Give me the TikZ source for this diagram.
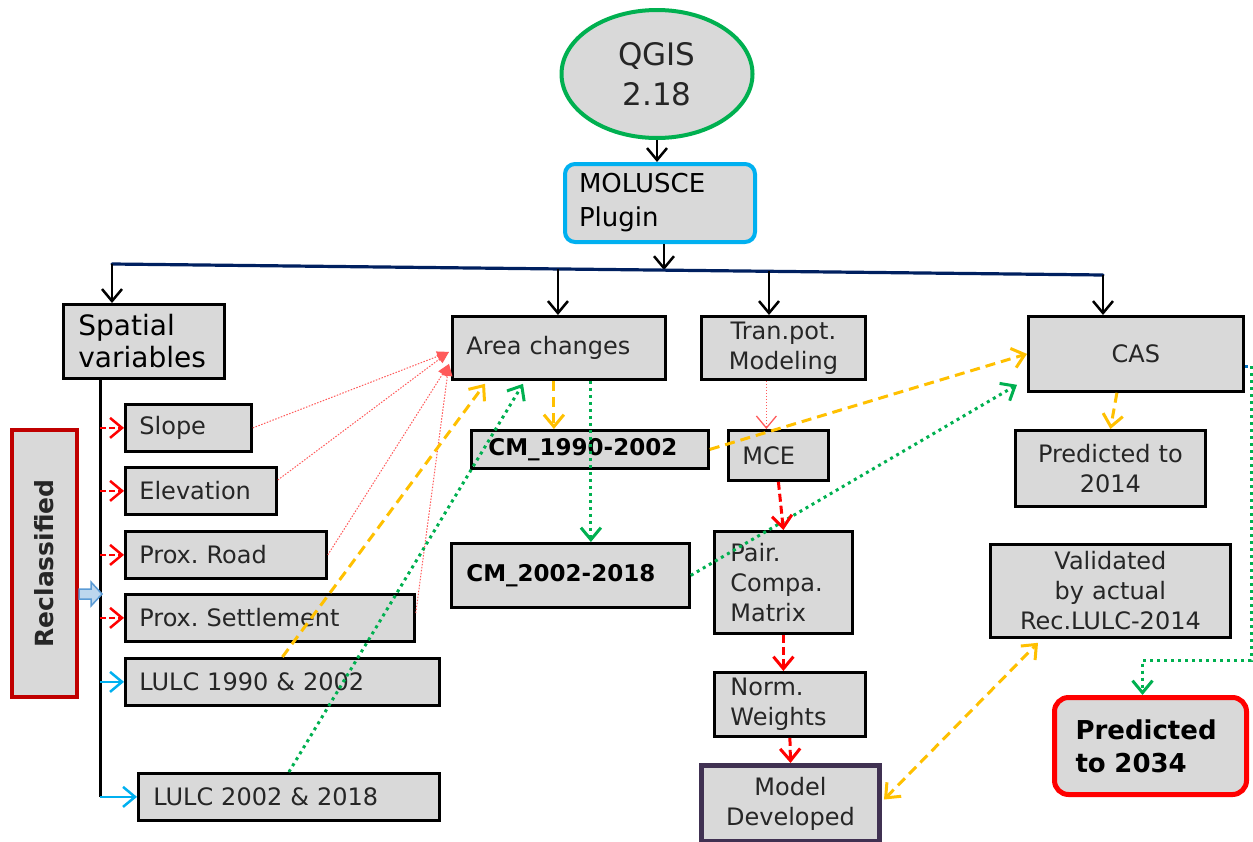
\documentclass[tikz,border=0pt]{standalone}
\usepackage{fontspec}
\setmainfont{DejaVu Sans}
\usepackage{tikz}
\usetikzlibrary{positioning,arrows.meta,shapes.geometric,calc}
\definecolor{grisclaro}{RGB}{217,217,217}
\definecolor{gristexto}{RGB}{38,38,38}
\definecolor{verde}{RGB}{0,176,80}
\definecolor{celeste}{RGB}{0,176,240}
\definecolor{marino}{RGB}{0,32,96}
\definecolor{naranja}{RGB}{255,192,0}
\definecolor{rojo}{RGB}{255,0,0}
\definecolor{rojoclaro}{RGB}{255,90,90}
\definecolor{rojooscuro}{RGB}{192,0,0}
\definecolor{morado}{RGB}{64,49,82}
\definecolor{azulpunto}{RGB}{0,112,192}
\definecolor{azulclaro}{RGB}{189,215,238}
\definecolor{azulborde}{RGB}{91,155,213}
\newcommand{\fuente}{\fontsize{24pt}{30pt}\selectfont}
\frenchspacing

\begin{document}
\begin{tikzpicture}[x=1pt, y=-1pt,
  caja/.style={draw=black, fill=grisclaro, line width=2.8pt, anchor=north west,
    inner xsep=14pt, inner ysep=0pt, align=left, text=gristexto, font=\fuente},
  punta/.style={-{Straight Barb[length=12pt,width=20pt]}},
  negra/.style={punta, line width=2.5pt, black},
  naranjaflecha/.style={punta, line width=3pt, naranja, dash pattern=on 10pt off 6pt},
  verdeflecha/.style={punta, line width=3pt, verde, dash pattern=on 3pt off 4pt},
  rojaflecha/.style={punta, line width=3pt, rojo, dash pattern=on 8pt off 4pt},
  rojofino/.style={line width=1pt, rojoclaro, dash pattern=on 1.5pt off 1.5pt},
  ramaroja/.style={punta, line width=2.5pt, rojo, dash pattern=on 6pt off 3pt},
  ramaazul/.style={punta, line width=2.5pt, celeste},
]
  \useasboundingbox (0,0) rectangle (1253,841);
  % Cabecera
  \node[ellipse, draw=verde, fill=grisclaro, line width=4pt, minimum width=191pt,
    minimum height=128pt, align=center, text=gristexto,
    font=\fontsize{31pt}{40pt}\selectfont] (qgis) at (657,74) {QGIS\\2.18};
  \node[caja, draw=celeste, line width=4pt, rounded corners=10pt, minimum width=190pt,
    minimum height=78pt, text width=162pt, text=black,
    font=\fontsize{26pt}{34pt}\selectfont] (molusce) at (563,162) {MOLUSCE\\Plugin};
  % Primer nivel
  \node[caja, minimum width=161pt, minimum height=74pt, text width=131pt,
    inner xsep=15pt, text=black, font=\fontsize{28pt}{32pt}\selectfont] (esp)
    at (62,303) {Spatial\\variables};
  \node[caja, minimum width=213pt, minimum height=63pt, text width=185pt]
    (area) at (451,315) {Area changes};
  \node[caja, minimum width=164pt, minimum height=63pt, text width=136pt,
    align=center] (tran) at (700,315) {Tran.pot.\\Modeling};
  \node[caja, minimum width=215pt, minimum height=75pt, text width=187pt,
    align=center] (cas) at (1027,315) {CAS};
  % Variables espaciales
  \node[caja, minimum width=126pt, minimum height=47pt, text width=98pt]
    (slope) at (124,403) {Slope};
  \node[caja, minimum width=151pt, minimum height=47pt, text width=123pt]
    (elev) at (124,466) {Elevation};
  \node[caja, minimum width=201pt, minimum height=47pt, text width=173pt]
    (road) at (124,530) {Prox. Road};
  \node[caja, minimum width=289pt, minimum height=47pt, text width=261pt]
    (sett) at (124,593) {Prox. Settlement};
  \node[caja, minimum width=314pt, minimum height=47pt, text width=286pt]
    (lulc1) at (124,657) {LULC 1990 \& 2002};
  \node[caja, minimum width=301pt, minimum height=47pt, text width=271pt,
    inner xsep=15pt] (lulc2) at (137,772) {LULC 2002 \& 2018};
  \node[draw=rojooscuro, fill=grisclaro, line width=4pt, rotate=90,
    minimum width=267pt, minimum height=65pt, inner sep=0pt, text=gristexto,
    font=\fontsize{25pt}{30pt}\selectfont\bfseries] (recl) at (44.5,563.5)
    {Reclassified};
  % Mapas de cambio y MCE
  \node[caja, minimum width=237pt, minimum height=38pt, text width=203pt,
    inner xsep=17pt, text=black, font=\fontsize{23pt}{28pt}\selectfont\bfseries]
    (cm1) at (470,429) {CM\_1990-2002};
  \node[caja, minimum width=238pt, minimum height=64pt, text width=208pt,
    inner xsep=15pt, text=black, font=\fontsize{23pt}{28pt}\selectfont\bfseries]
    (cm2) at (450,542) {CM\_2002-2018};
  \node[caja, minimum width=100pt, minimum height=50pt, text width=72pt]
    (mce) at (727,429) {MCE};
  \node[caja, minimum width=138pt, minimum height=102pt, text width=106pt,
    inner xsep=16pt] (pair) at (713,530) {Pair.\\Compa.\\Matrix};
  \node[caja, minimum width=151pt, minimum height=64pt, text width=119pt,
    inner xsep=16pt] (norm) at (713,671) {Norm.\\Weights};
  \node[caja, draw=morado, line width=5pt, minimum width=178pt, minimum height=76pt,
    text width=150pt, align=center] (model) at (699,763) {Model\\Developed};
  % Prediccion
  \node[caja, minimum width=190pt, minimum height=76pt, text width=162pt,
    align=center] (p14) at (1014,429) {Predicted to\\2014};
  \node[caja, minimum width=240pt, minimum height=93pt, text width=212pt,
    align=center] (val) at (989,543) {Validated\\by actual\\Rec.LULC-2014};
  \node[caja, draw=rojo, line width=5pt, rounded corners=14pt, minimum width=192pt,
    minimum height=97pt, text width=150pt, inner xsep=21pt, text=black,
    font=\fontsize{26pt}{33pt}\selectfont\bfseries] (p34) at (1052,695)
    {Predicted\\to 2034};

  % Barra de distribucion
  \coordinate (b1) at (112,264);
  \coordinate (b4) at (1103,275);
  \coordinate (b2) at ($(b1)!0.450!(b4)$);
  \coordinate (bm) at ($(b1)!0.557!(b4)$);
  \coordinate (b3) at ($(b1)!0.663!(b4)$);
  \draw[negra] (qgis.south) -- (molusce.north -| qgis.south);
  \draw[negra] (molusce.south -| bm) -- (bm);
  \draw[marino, line width=3.2pt, line cap=round] (b1) -- (b4);
  \draw[negra] (b1) -- (b1 |- esp.north);
  \draw[negra] (b2) -- (b2 |- area.north);
  \draw[negra] (b3) -- (b3 |- tran.north);
  \draw[negra] (b4) -- (b4 |- cas.north);

  % Tronco de variables
  \coordinate (tronco) at ($(esp.south west)+(38,0)$);
  \draw[black, line width=3pt] (tronco) -- (tronco |- lulc2.west);
  \draw[ramaroja] (tronco |- slope.west) -- (slope.west);
  \draw[ramaroja] (tronco |- elev.west) -- (elev.west);
  \draw[ramaroja] (tronco |- road.west) -- (road.west);
  \draw[ramaroja] (tronco |- sett.west) -- (sett.west);
  \draw[ramaazul] (tronco |- lulc1.west) -- (lulc1.west);
  \draw[ramaazul] (tronco |- lulc2.west) -- (lulc2.west);
  \coordinate (cola) at (recl.south |- 0,594);
  \draw[fill=azulclaro, draw=azulborde, line width=1.5pt]
    ($(cola)+(0,-5)$) -- ++(12,0) -- ++(0,-7) -- ++(11,12) -- ++(-11,12)
    -- ++(0,-7) -- ++(-12,0) -- cycle;

  % Hacia Area changes
  \draw[rojofino, -{Triangle[length=12pt,width=10pt]}] (slope.east) -- ($(area.west)+(-2,4)$);
  \draw[rojofino, -{Triangle[length=12pt,width=10pt]}] ($(elev.north east)+(0,14)$)
    -- ($(area.west)+(-2,4)$);
  \draw[rojofino, -{Triangle[length=12pt,width=10pt]}] (road.east) -- ($(area.west)+(-2,16)$);
  \draw[rojofino, -{Triangle[length=12pt,width=10pt]}] ($(sett.north east)+(0,20)$)
    -- ($(area.west)+(-2,16)$);
  \draw[naranjaflecha] (lulc1.north) -- ($(area.south west)+(34,3)$);
  \draw[verdeflecha] (lulc2.north) -- ($(area.south west)+(72,3)$);
  \coordinate (a1) at ($(area.south)+(-5,0)$);
  \coordinate (a2) at ($(area.south)+(32,0)$);
  \draw[naranjaflecha] (a1) -- (a1 |- cm1.north);
  \draw[verdeflecha] (a2) -- (a2 |- cm2.north);

  % Hacia CAS
  \draw[naranjaflecha] (cm1.east) -- (cas.west);
  \draw[verdeflecha] (cm2.east) -- ($(cas.south west)+(-10,-8)$);
  \draw[naranjaflecha] ($(cas.south)+(-19,0)$) -- (p14.north);

  % Cadena MCE
  \coordinate (t1) at ($(tran.south)+(-17,0)$);
  \draw[rojofino, line width=1.3pt, punta] (t1) -- (t1 |- mce.north);
  \draw[rojaflecha] (mce.south) -- (pair.north);
  \draw[rojaflecha] (pair.south) -- (pair.south |- norm.north);
  \draw[rojaflecha] (norm.south) -- (model.north);
  \draw[naranjaflecha, {Straight Barb[length=12pt,width=20pt]}-{Straight Barb[length=12pt,width=20pt]}]
    ($(model.east)+(2,-4)$) -- ($(val.south west)+(49,4)$);

  % Salida a 2034
  \coordinate (esq) at (1251,366);
  \draw[azulpunto, line width=3pt, dash pattern=on 3pt off 4pt] (cas.east |- esq) -- (esq);
  \draw[verdeflecha] (esq) |- ($(p34.north)+(-8,-35)$) -- ($(p34.north)+(-8,0)$);
\end{tikzpicture}
\end{document}
